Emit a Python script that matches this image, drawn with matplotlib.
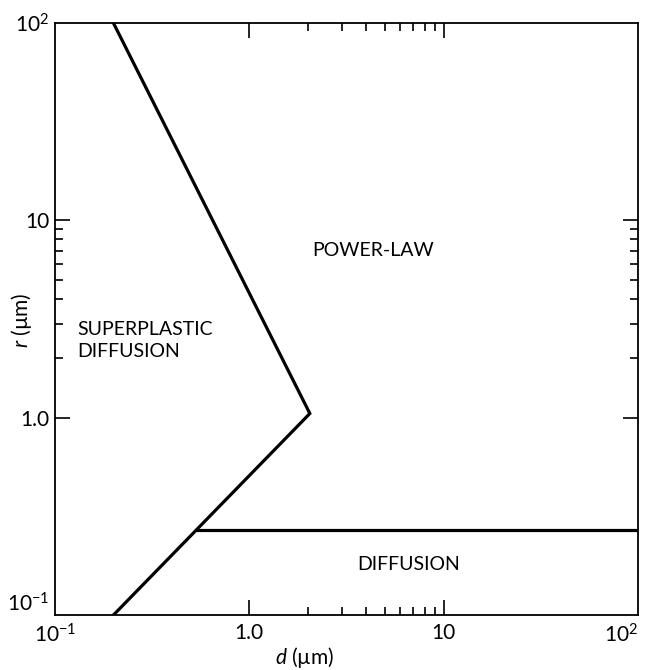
import matplotlib
matplotlib.use("Agg")
import matplotlib.pyplot as plt
from matplotlib.ticker import FixedLocator, NullFormatter

plt.rcParams['font.family'] = ['Lato', 'DejaVu Sans']
plt.rcParams['mathtext.fontset'] = 'custom'
plt.rcParams['mathtext.rm'] = 'Lato'
plt.rcParams['mathtext.it'] = 'Lato:italic'
plt.rcParams['mathtext.default'] = 'regular'

# boundary: superplastic / power-law (upper branch) and superplastic / diffusion (lower branch)
boundary_d = [0.2, 2.05, 0.2]
boundary_r = [100, 1.05, 0.1]
# diffusion / power-law boundary
horiz_d = [0.53, 100]
horiz_r = [0.27, 0.27]

minor_ticks = [2, 3, 4, 5, 6, 7, 8, 9]
x_tick_vals = [0.1, 1, 10, 100]
x_tick_labels = [r'$10^{-1}$', '1.0', '10', r'$10^{2}$']
y_tick_vals = [0.1, 1, 10, 100]
y_tick_labels = [r'$10^{-1}$', '1.0', '10', r'$10^{2}$']

regions = [
    ('POWER-LAW', 4.35, 7.0, 'center'),
    ('SUPERPLASTIC\nDIFFUSION', 0.13, 2.45, 'left'),
    ('DIFFUSION', 6.6, 0.18, 'center'),
]

fig = plt.figure(figsize=(6.46, 6.70), dpi=100)
ax = fig.add_axes([0.085, 0.082, 0.9025, 0.8837])
ax.set_xscale('log')
ax.set_yscale('log')
ax.set_xlim(0.1, 100)
ax.set_ylim(0.1, 100)

ax.plot(boundary_d, boundary_r, color='black', lw=2.3, solid_joinstyle='miter')
ax.plot(horiz_d, horiz_r, color='black', lw=2.3)

for s in ax.spines.values():
    s.set_linewidth(1.3)

for axis in (ax.xaxis, ax.yaxis):
    axis.set_major_locator(FixedLocator(x_tick_vals))
    axis.set_minor_locator(FixedLocator(minor_ticks))
    axis.set_minor_formatter(NullFormatter())
ax.set_xticks(x_tick_vals)
ax.set_xticklabels(x_tick_labels)
ax.set_yticks(y_tick_vals)
ax.set_yticklabels(y_tick_labels)

ax.tick_params(which='both', direction='in', top=True, right=True,
               labelsize=15, width=1.2, pad=6, colors='black')
ax.tick_params(which='major', length=11)
ax.tick_params(which='minor', length=5.5)
ax.tick_params(axis='y', pad=4)

# hide tick marks at the axis corners (0.1 and 100)
xt = ax.xaxis.get_major_ticks()
yt = ax.yaxis.get_major_ticks()
for t in (xt[0], xt[-1], yt[0], yt[-1]):
    for ln in (t.tick1line, t.tick2line):
        ln.set_visible(False)

yl = ax.get_yticklabels()
yl[0].set_va('bottom')
xl = ax.get_xticklabels()
xl[-1].set_ha('right')
xl[-1].set_x(100)

for txt, xd, yd, ha in regions:
    ax.text(xd, yd, txt, ha=ha, va='center', fontsize=14, linespacing=1.35)

xlab = ax.set_xlabel(r'$\it{d}$ (µm)', fontsize=15)
ylab = ax.set_ylabel(r'$\it{r}$ (µm)', fontsize=15)
xlab.set_va('center')
ylab.set_va('center')
ax.xaxis.set_label_coords(0.429, -0.071)
ax.yaxis.set_label_coords(-0.057, 0.498)

fig.savefig('out.png', dpi=100)
